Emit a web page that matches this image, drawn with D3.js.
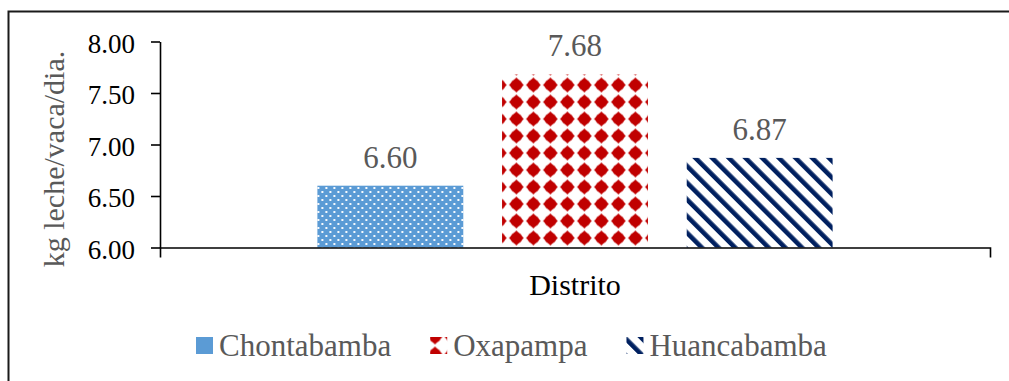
<!DOCTYPE html>
<html>
<head>
<meta charset="utf-8">
<script src="https://cdn.jsdelivr.net/npm/d3@7"></script>
<style>
  html, body { margin: 0; padding: 0; background: #fff; }
  svg { display: block; }
  text { font-family: "Liberation Serif", "Times New Roman", serif; }
</style>
</head>
<body>
<svg id="chart" width="1009" height="381"></svg>
<script>
// Producción de leche por distrito
const categories = ["Distrito"];
const seriesNames = ["Chontabamba", "Oxapampa", "Huancabamba"];
const seriesValues = [6.60, 7.68, 6.87];
const yTicks = [6.00, 6.50, 7.00, 7.50, 8.00];
const yTitle = "kg leche/vaca/dia.";

const svg = d3.select("#chart");
const defs = svg.append("defs");

// Fill patterns
// dotted blue
const pDots = defs.append("pattern").attr("id", "p-dots")
  .attr("patternUnits", "userSpaceOnUse").attr("width", 8).attr("height", 8)
  .attr("x", 318).attr("y", 186);
pDots.append("rect").attr("width", 8).attr("height", 8).attr("fill", "#5B9BD5");
pDots.append("rect").attr("x", 2).attr("y", 1).attr("width", 2).attr("height", 2).attr("fill", "#fff").attr("opacity", 0.95);
pDots.append("rect").attr("x", 6).attr("y", 5).attr("width", 2).attr("height", 2).attr("fill", "#fff").attr("opacity", 0.95);

// red diamonds on a square grid
function diamondPattern(id, x, y) {
  const p = defs.append("pattern").attr("id", id)
    .attr("patternUnits", "userSpaceOnUse").attr("width", 17).attr("height", 17)
    .attr("x", x).attr("y", y);
  p.append("rect").attr("width", 17).attr("height", 17).attr("fill", "#fff");
  const g = p.append("g").attr("fill", "#C00000");
  const cx = 8.5, cy = 8.5;
  g.append("circle").attr("cx", cx).attr("cy", cy).attr("r", 5.8);
  g.append("path").attr("d", `M${cx},${cy - 7.4}L${cx + 7.4},${cy}L${cx},${cy + 7.4}L${cx - 7.4},${cy}Z`);
  return p;
}
diamondPattern("p-diam", 496.5, 76.5);

// navy diagonal stripes
function stripePattern(id, x, y) {
  const p = defs.append("pattern").attr("id", id)
    .attr("patternUnits", "userSpaceOnUse").attr("width", 11.8).attr("height", 11.8)
    .attr("x", x).attr("y", y)
    .attr("patternTransform", "rotate(-45)");
  p.append("rect").attr("width", 11.8).attr("height", 11.8).attr("fill", "#fff");
  p.append("rect").attr("x", 0).attr("width", 4.6).attr("height", 11.8).attr("fill", "#002060");
  return p;
}
stripePattern("p-stripe", 0, 0);

const fills = ["url(#p-dots)", "url(#p-diam)", "url(#p-stripe)"];

// Outer frame
svg.append("path").attr("d", "M8.5,381V11.5H1009")
  .attr("fill", "none").attr("stroke", "#1a1a1a").attr("stroke-width", 2);

// Scales
const y = d3.scaleLinear().domain([6, 8]).range([247.5, 41.5]);
const x0 = d3.scaleBand().domain(categories).range([160, 990]).padding(0.234);
const x1 = d3.scaleBand().domain(seriesNames).range([0, x0.bandwidth()]).paddingInner(0.21);

// Bars
const group = svg.append("g").attr("transform", `translate(${x0("Distrito")},0)`);
group.selectAll("rect.bar").data(seriesValues).join("rect")
  .attr("class", "bar")
  .attr("x", (d, i) => x1(seriesNames[i]))
  .attr("y", d => y(d))
  .attr("width", x1.bandwidth())
  .attr("height", d => y(6) - y(d))
  .attr("fill", (d, i) => fills[i]);

// Value labels
group.selectAll("text.val").data(seriesValues).join("text")
  .attr("class", "val")
  .attr("x", (d, i) => x1(seriesNames[i]) + x1.bandwidth() / 2)
  .attr("y", d => y(d) - 18)
  .attr("text-anchor", "middle")
  .attr("font-size", 31)
  .attr("fill", "#595959")
  .text(d => d.toFixed(2));

// Y axis
const yAxis = svg.append("g").attr("transform", "translate(160,0)")
  .call(d3.axisLeft(y).tickValues(yTicks).tickFormat(d3.format(".2f"))
    .tickSize(9).tickSizeOuter(0).tickPadding(16));
yAxis.selectAll("path, line").attr("stroke", "#000").attr("stroke-width", 1.6);
yAxis.selectAll("text").attr("font-size", 27).attr("fill", "#000")
  .attr("font-family", "Liberation Serif").attr("dy", "0.4em");

// X axis
const xAxis = svg.append("g").attr("transform", `translate(0,${y(6)})`)
  .call(d3.axisBottom(x0).tickSizeInner(0).tickSizeOuter(10).tickPadding(26));
xAxis.selectAll("path, line").attr("stroke", "#000").attr("stroke-width", 1.6);
xAxis.selectAll("text").attr("font-size", 30).attr("fill", "#000")
  .attr("font-family", "Liberation Serif");

// Y axis title
svg.append("text")
  .attr("transform", "translate(64,159) rotate(-90)")
  .attr("text-anchor", "middle")
  .attr("font-size", 30)
  .attr("fill", "#595959")
  .text(yTitle);

// Legend
diamondPattern("p-diam-leg", 426.5, 328.5);
const legendFills = ["#5B9BD5", "url(#p-diam-leg)", "url(#p-stripe)"];
const legend = svg.append("g");
let lx = 196;
seriesNames.forEach((name, i) => {
  legend.append("rect").attr("x", lx).attr("y", 337).attr("width", 17).attr("height", 17)
    .attr("fill", legendFills[i]);
  const t = legend.append("text").attr("x", lx + 23).attr("y", 356)
    .attr("font-size", 31).attr("fill", "#595959").text(name);
  lx += 23 + t.node().getComputedTextLength() + 39;
});
</script>
</body>
</html>
